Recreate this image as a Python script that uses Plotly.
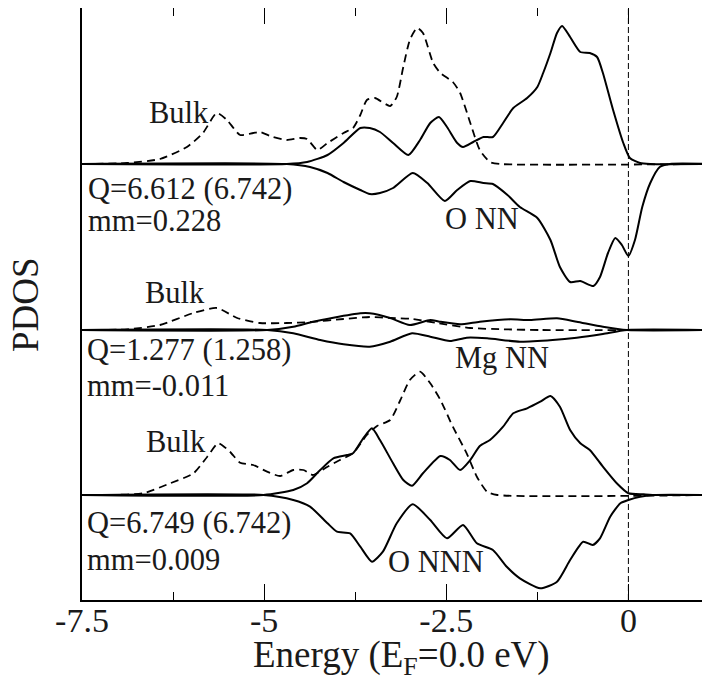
import plotly.graph_objects as go

# energies (eV) and PDOS, arbitrary units
# O NN panel
e_onn_bulk = [-7.5, -6.88, -6.43, -6.06, -5.84, -5.65, -5.51, -5.33, -5.15, -5.06, -4.88, -4.69, -4.51, -4.41,
              -4.27, -4.13, -3.91, -3.78, -3.68, -3.59, -3.48, -3.27, -3.18, -3.09, -3.0, -2.9, -2.82, -2.68,
              -2.58, -2.41, -2.31, -2.17, -2.04, -1.9, -1.76, 1.12]
onn_bulk = [0, 0.1, 0.5, 1.7, 3.1, 5.1, 4.4, 2.9, 3.1, 3.2, 2.7, 2.4, 2.6, 2.5,
            1.4, 2.1, 3.1, 3.6, 4.9, 6.4, 6.6, 5.8, 6.7, 9.7, 12.4, 13.6, 13.1, 10.1,
            9.1, 8.2, 7.1, 4.1, 1.4, 0.2, 0, 0]
e_onn_up = [-7.5, -4.69, -4.41, -4.13, -3.91, -3.68, -3.55, -3.41, -3.23, -3.02, -2.86, -2.72, -2.6, -2.49,
            -2.35, -2.27, -2.13, -1.99, -1.86, -1.72, -1.58, -1.39, -1.25, -1.17, -1.07, -0.98, -0.91, -0.8,
            -0.66, -0.53, -0.43, -0.35, -0.21, -0.07, 0.02, 0.16, 0.3, 1.12]
onn_up = [0, 0, 0.2, 0.9, 2.1, 3.6, 3.6, 3.2, 2.1, 0.9, 2.4, 4.1, 4.7, 3.7,
          2.1, 1.7, 2.2, 2.7, 2.7, 4.1, 5.6, 6.6, 7.7, 9.1, 11.1, 13.1, 13.8, 12.7,
          11.2, 11.1, 10.7, 9.1, 5.4, 2.1, 0.6, 0.1, 0, 0]
e_onn_dn = [-7.5, -4.69, -4.37, -4.13, -3.91, -3.68, -3.55, -3.41, -3.23, -2.96, -2.76, -2.52, -2.35, -2.17,
            -1.99, -1.86, -1.66, -1.49, -1.25, -1.07, -0.94, -0.8, -0.66, -0.48, -0.39, -0.28, -0.18, -0.09,
            0.0, 0.09, 0.19, 0.3, 0.43, 0.57, 1.12]
onn_dn = [0, 0, 0.3, 0.9, 1.8, 2.6, 3.0, 2.9, 2.4, 0.9, 1.9, 3.7, 2.6, 1.7,
          1.9, 2.0, 3.1, 4.3, 5.4, 7.6, 10.3, 11.8, 11.7, 12.2, 11.3, 8.9, 7.4, 8.1,
          9.2, 7.6, 4.3, 1.9, 0.3, 0, 0]

# Mg NN panel
e_mg_bulk = [-7.5, -6.88, -6.43, -5.97, -5.65, -5.37, -5.06, -4.69, -4.37, -3.91, -3.55, -3.27, -2.96, -2.63,
             -2.17, -1.72, -1.21, 1.12]
mg_bulk = [0, 0.07, 0.5, 1.7, 2.2, 1.2, 0.7, 0.7, 0.8, 1.1, 1.3, 1.2, 1.1, 0.7,
           0.2, 0.07, 0, 0]
e_mg_up = [-7.5, -4.96, -4.6, -4.33, -4.05, -3.68, -3.55, -3.27, -3.0, -2.72, -2.59, -2.31, -2.04, -1.62,
           -1.35, -0.98, -0.71, -0.35, -0.02, 1.12]
mg_up = [0, 0, 0.33, 0.83, 1.23, 1.67, 1.67, 1.2, 0.5, 1.0, 0.83, 0.57, 0.83, 1.07,
         1.0, 1.17, 0.83, 0.33, 0, 0]
e_mg_dn = [-7.5, -4.96, -4.6, -4.23, -3.91, -3.55, -3.27, -2.97, -2.72, -2.45, -2.22, -1.94, -1.49, -1.04,
           -0.71, -0.35, -0.02, 1.12]
mg_dn = [0, 0, 0.33, 1.0, 1.43, 1.67, 1.17, 0.33, 0.67, 1.1, 0.77, 0.83, 1.17, 1.0,
         0.77, 0.4, 0, 0]

# O NNN panel
e_onnn_bulk = [-7.5, -7.11, -6.66, -6.29, -5.97, -5.78, -5.63, -5.47, -5.33, -5.15, -4.96, -4.78, -4.6, -4.46,
               -4.33, -4.13, -3.96, -3.78, -3.59, -3.45, -3.27, -3.13, -3.0, -2.86, -2.72, -2.58, -2.41, -2.22,
               -2.08, -1.94, -1.8, 1.12]
onnn_bulk = [0, 0, 0.17, 1.17, 2.17, 3.83, 5.17, 4.33, 3.23, 3.0, 2.33, 1.9, 2.5, 2.5,
             2.0, 2.83, 3.5, 4.17, 6.0, 6.9, 7.5, 9.5, 11.5, 12.33, 11.17, 9.5, 6.83, 4.17,
             1.83, 0.33, 0, 0]
e_onnn_up = [-7.5, -5.01, -4.6, -4.41, -4.23, -4.05, -3.86, -3.78, -3.64, -3.52, -3.41, -3.23, -3.09, -2.97,
             -2.82, -2.58, -2.45, -2.31, -2.17, -2.04, -1.9, -1.72, -1.58, -1.39, -1.21, -1.07, -0.94, -0.8,
             -0.66, -0.53, -0.35, -0.16, 0.0, 0.21, 0.39, 1.12]
onnn_up = [0, 0, 0.5, 1.17, 2.5, 3.67, 4.0, 4.17, 5.67, 6.67, 5.5, 3.17, 1.5, 0.93,
           2.17, 3.9, 3.5, 2.5, 3.5, 4.9, 5.5, 6.83, 8.17, 8.67, 9.33, 9.9, 8.83, 6.5,
           5.17, 4.5, 2.83, 1.17, 0.17, 0.07, 0, 0]
e_onnn_dn = [-7.5, -5.01, -4.6, -4.37, -4.13, -4.0, -3.82, -3.68, -3.52, -3.37, -3.18, -2.96, -2.72, -2.49,
             -2.27, -2.08, -1.86, -1.67, -1.49, -1.21, -0.98, -0.8, -0.62, -0.49, -0.39, -0.25, -0.11, 0.0,
             0.16, 0.34, 1.12]
onnn_dn = [0, 0, 0.5, 1.17, 2.83, 3.67, 3.83, 5.17, 6.67, 5.67, 2.83, 0.93, 2.5, 4.33,
           3.0, 4.83, 5.5, 7.17, 8.33, 9.33, 8.67, 6.5, 4.67, 5.0, 4.33, 2.17, 0.83, 0.5,
           0.17, 0, 0]

# vertical offsets of each panel baseline
offsets = [43.6, 27.0, 10.5]

panels = [
    (e_onn_bulk, onn_bulk, e_onn_up, onn_up, e_onn_dn, onn_dn),
    (e_mg_bulk, mg_bulk, e_mg_up, mg_up, e_mg_dn, mg_dn),
    (e_onnn_bulk, onnn_bulk, e_onnn_up, onnn_up, e_onnn_dn, onnn_dn),
]

FONT = "Liberation Serif"
TXT = '#1a1a1a'

fig = go.Figure()
for off, (eb, b, eu, u, ed, d) in zip(offsets, panels):
    fig.add_trace(go.Scatter(x=eu, y=[off + v for v in u], mode='lines',
                             line=dict(color='black', width=2, shape='spline', smoothing=0.6)))
    fig.add_trace(go.Scatter(x=ed, y=[off - v for v in d], mode='lines',
                             line=dict(color='black', width=2, shape='spline', smoothing=0.6)))
    fig.add_trace(go.Scatter(x=eb, y=[off + v for v in b], mode='lines',
                             line=dict(color='black', width=1.8, dash='8px,5px', shape='spline', smoothing=0.6)))

# Fermi level
fig.add_shape(type='line', x0=0, x1=0, xref='x', y0=0, y1=1, yref='paper',
              line=dict(color='black', width=1, dash='6px,3px'))

labels = [
    ("Bulk", -6.60, 48.7, 'left'),
    ("Q=6.612 (6.742)", -7.43, 41.15, 'left'),
    ("mm=0.228", -7.43, 37.9, 'left'),
    ("O NN", -2.007, 38.1, 'center'),
    ("Bulk", -6.65, 30.75, 'left'),
    ("Q=1.277 (1.258)", -7.45, 25.0, 'left'),
    ("mm=-0.011", -7.44, 21.4, 'left'),
    ("Mg NN", -1.733, 24.2, 'center'),
    ("Bulk", -6.64, 15.8, 'left'),
    ("Q=6.749 (6.742)", -7.45, 7.7, 'left'),
    ("mm=0.009", -7.44, 4.0, 'left'),
    ("O NNN", -2.645, 3.8, 'center'),
]
for txt, xx, yy, anc in labels:
    fig.add_annotation(x=xx, y=yy, xref='x', yref='y', text=txt, showarrow=False,
                       xanchor=anc, yanchor='middle', borderpad=0,
                       font=dict(family=FONT, size=30.5, color=TXT))

fig.add_annotation(x=-0.0908, y=0.5, xref='paper', yref='paper', text="PDOS", textangle=-90,
                   showarrow=False, xanchor='center', yanchor='middle',
                   font=dict(family=FONT, size=37, color=TXT))
fig.add_annotation(x=0.508, y=-0.0963, xref='paper', yref='paper', text="Energy (E<sub>F</sub>=0.0 eV)",
                   showarrow=False, xanchor='center', yanchor='middle',
                   font=dict(family=FONT, size=37, color=TXT))

# page body adds 8px around the figure
fig.update_layout(
    width=702, height=677,
    margin=dict(l=74, r=0, t=0, b=85),
    plot_bgcolor='white', paper_bgcolor='white',
    showlegend=False,
    font=dict(family=FONT, color=TXT),
)
fig.update_xaxes(range=[-7.5, 1.12], showgrid=False, zeroline=False, automargin=False,
                 showline=True, linecolor='black', linewidth=1.5, mirror='ticks',
                 ticks='inside', ticklen=16, tickwidth=1.2, tickcolor='black',
                 tickvals=[-7.5, -5, -2.5, 0], ticktext=['-7.5', '-5', '-2.5', '0'],
                 ticklabelstandoff=-11,
                 tickfont=dict(family=FONT, size=34, color=TXT),
                 minor=dict(tickvals=[-6.25, -3.75, -1.25], ticks='inside', ticklen=8,
                            tickwidth=1.2, tickcolor='black', showgrid=False))
fig.update_yaxes(range=[0, 59.2], showgrid=False, zeroline=False, showticklabels=False, automargin=False,
                 showline=True, linecolor='black', linewidth=1.5, mirror=False, ticks='')

fig.write_html("out.html")
